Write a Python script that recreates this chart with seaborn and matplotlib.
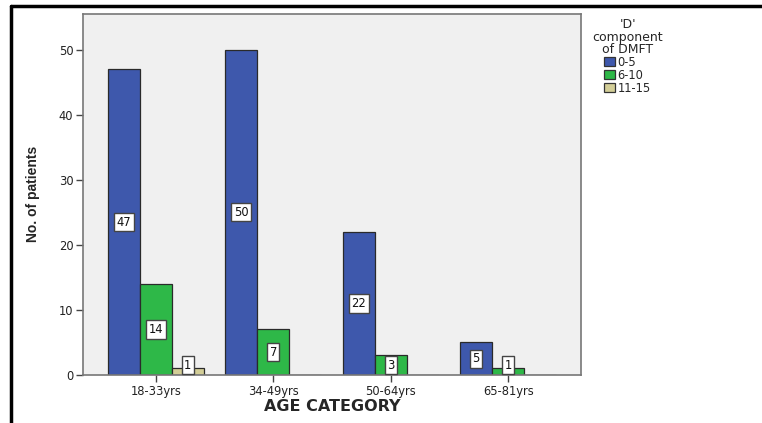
import matplotlib
matplotlib.use("Agg")
import matplotlib.pyplot as plt
import seaborn as sns
import pandas as pd
from matplotlib.lines import Line2D

age_categories = ["18-33yrs", "34-49yrs", "50-64yrs", "65-81yrs"]
d_groups = ["0-5", "6-10", "11-15"]
counts_0_5 = [47, 50, 22, 5]
counts_6_10 = [14, 7, 3, 1]
counts_11_15 = [1, 0, 0, 0]
yticks = [0, 10, 20, 30, 40, 50]

colors = ["#3e58ac", "#2eb848", "#d3ce97"]

rows = []
for grp, vals in zip(d_groups, [counts_0_5, counts_6_10, counts_11_15]):
    for cat, v in zip(age_categories, vals):
        rows.append({"age": cat, "D": grp, "count": v})
df = pd.DataFrame(rows)

sns.set_theme(style="white")
plt.rcParams["font.family"] = ["DejaVu Sans"]

fig = plt.figure(figsize=(7.62, 4.23), dpi=100)
W, H = 762, 423
ax = fig.add_axes([83 / W, 1 - 375 / H, (581 - 83) / W, (375 - 13.5) / H])
ax.set_facecolor("#f0f0f0")

sns.barplot(data=df, x="age", y="count", hue="D", hue_order=d_groups,
            order=age_categories, palette=colors, saturation=1, width=0.817, gap=0,
            edgecolor="#2a2a2a", linewidth=0.9, ax=ax, legend=False)

ax.set_xlim(-0.62, 3.62)
ax.set_ylim(0, 55.6)
ax.set_yticks(yticks)
ax.set_yticklabels([str(t) for t in yticks])

for s in ax.spines.values():
    s.set_color("#777777")
    s.set_linewidth(1.2)

ax.tick_params(axis="both", which="both", direction="out", length=5, width=1,
               color="#444444", labelsize=8.3, labelcolor="#222222", pad=2,
               left=True, bottom=True)

ax.set_xlabel("AGE CATEGORY", fontsize=11.5, fontweight="bold",
              family=["DejaVu Sans"], labelpad=1)
ax.set_ylabel("No. of patients", fontsize=10, fontweight="bold",
              family=["Liberation Sans Narrow", "Liberation Sans"])
ax.yaxis.set_label_coords((40 - 83) / 498, 0.5)

# value labels
for container in ax.containers:
    for patch in container.patches:
        h = patch.get_height()
        if h <= 0:
            continue
        xc = patch.get_x() + patch.get_width() / 2
        yc = max(h / 2, 1.5)
        ax.text(xc, yc, f"{int(round(h))}", ha="center", va="center",
                fontsize=8.3, color="#111111",
                bbox=dict(boxstyle="square,pad=0.22", fc="white",
                          ec="#444444", lw=1.0))

# legend outside
handles = [plt.Rectangle((0, 0), 1, 1, fc=c, ec="#333333", lw=0.9) for c in colors]
leg = fig.legend(handles, d_groups, title="'D'\ncomponent\nof DMFT",
                 loc="upper left", bbox_to_anchor=(590 / W, 1 - 16 / H),
                 frameon=False, fontsize=8.3, title_fontsize=9,
                 handlelength=0.9, handleheight=0.75, handletextpad=0.25,
                 labelspacing=0.0, borderaxespad=0, borderpad=0.2)
leg.get_title().set_multialignment("center")
leg.get_title().set_linespacing(0.92)

# outer frame (left and top edges visible)
fig.add_artist(Line2D([11 / W, 11 / W], [0, 1 - 6 / H], transform=fig.transFigure,
                      color="black", lw=2.5))
fig.add_artist(Line2D([11 / W, 1], [1 - 6 / H, 1 - 6 / H], transform=fig.transFigure,
                      color="black", lw=2.5))

fig.savefig("out.png", dpi=100, facecolor="white")
